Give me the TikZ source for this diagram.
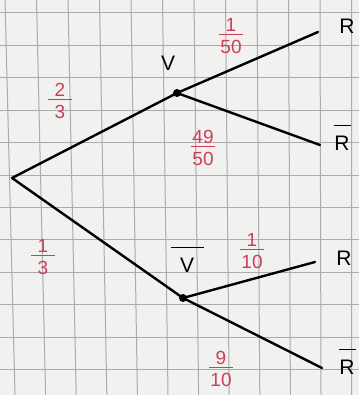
\documentclass[tikz,border=0pt]{standalone}
\usepackage{fontspec}
\setmainfont{Liberation Sans}
\definecolor{papier}{RGB}{241,241,240}
\definecolor{rejilla}{RGB}{170,170,176}
\definecolor{tinta}{RGB}{205,62,88}
\tikzset{
  rama/.style={line width=2.4pt, line cap=round},
  suceso/.style={inner sep=0pt, font=\fontsize{21}{22}\selectfont},
  prob/.style={inner sep=0pt, text=tinta, align=center,
    font=\fontsize{19}{16}\selectfont}
}
\newcommand\negado[2]{\shortstack{\rule{#2}{1.4pt}\\[7pt]#1}}
\newcommand\fraccion[2]{\shortstack{#1\\[-1pt]\rule{24pt}{1.5pt}\\[2pt]#2}}
\begin{document}
\begin{tikzpicture}[x=1pt,y=-1pt]
  \useasboundingbox (0,0) rectangle (359,395);
  \clip (0,0) rectangle (359,395);
  \fill[papier] (0,0) rectangle (359,395);
  % cuadricula
  \foreach \k in {0,...,11}
    \draw[rejilla, line width=1pt] (5+31.5*\k,0) -- (15+30.6*\k,395);
  \foreach \k in {0,...,11}
    \draw[rejilla, line width=1pt] (0,13+32.4*\k) -- (359,13+32.4*\k);
  % arbol
  \coordinate (raiz) at (12,178);
  \coordinate (v) at (177,93);
  \coordinate (nv) at (183,298);
  \coordinate (vr) at (318,32);
  \coordinate (vnr) at (320,145);
  \coordinate (nvr) at (315,262);
  \coordinate (nvnr) at (322,368);
  \draw[rama] (raiz) -- (v) -- (vr);
  \draw[rama] (v) -- (vnr);
  \draw[rama] (raiz) -- (nv) -- (nvr);
  \draw[rama] (nv) -- (nvnr);
  \fill (v) circle (4pt);
  \fill (nv) circle (4pt);
  % sucesos
  \node[suceso] (lv) at (168,63) {V};
  \node[suceso, anchor=south] (lnv) at (187,273) {\negado{V}{33pt}};
  \node[suceso] (lvr) at (347,26) {R};
  \node[suceso, anchor=south] (lvnr) at (342,151) {\negado{R}{17pt}};
  \node[suceso] (lnvr) at (344,258) {R};
  \node[suceso, anchor=south] (lnvnr) at (347,375) {\negado{R}{17pt}};
  % probabilidades
  \node[prob] (p1) at (60,101) {\fraccion{2}{3}};
  \node[prob] (p2) at (43,257) {\fraccion{1}{3}};
  \node[prob] (p3) at (231,36) {\fraccion{1}{50}};
  \node[prob] (p4) at (203,148) {\fraccion{49}{50}};
  \node[prob] (p5) at (252,251) {\fraccion{1}{10}};
  \node[prob] (p6) at (221,369) {\fraccion{9}{10}};
\end{tikzpicture}
\end{document}
